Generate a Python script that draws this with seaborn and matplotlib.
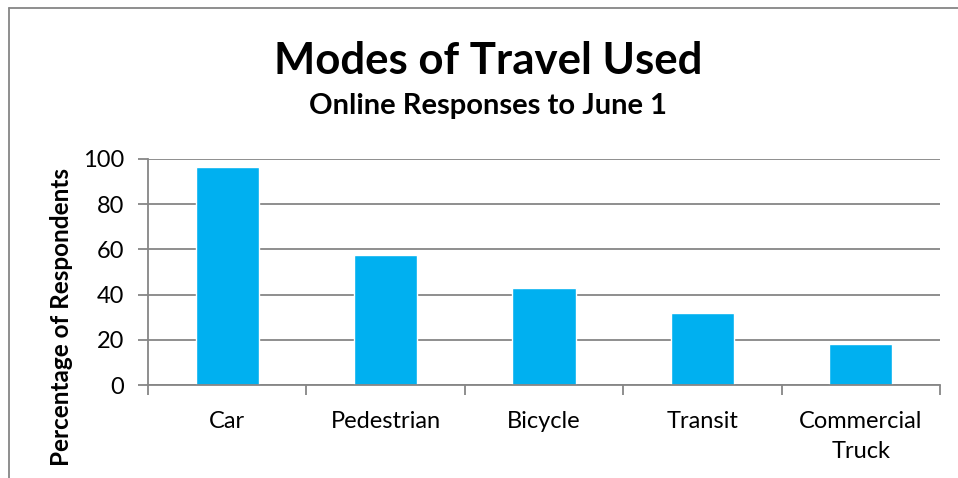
import matplotlib
matplotlib.use("Agg")
import matplotlib.pyplot as plt
from matplotlib.lines import Line2D
import seaborn as sns
import pandas as pd

modes = ["Car", "Pedestrian", "Bicycle", "Transit", "Commercial\nTruck"]
percent = [96.5, 57.5, 43, 32, 18]
y_ticks = [0, 20, 40, 60, 80, 100]

sns.set_theme(style="white")
plt.rcParams["font.family"] = ["Lato", "DejaVu Sans"]

df = pd.DataFrame({"mode": modes, "percent": percent})

fig = plt.figure(figsize=(9.58, 4.78), dpi=100)
ax = fig.add_axes([148 / 958, 1 - 385 / 478, 792 / 958, 226 / 478])

sns.barplot(data=df, x="mode", y="percent", color="#00B0F0", saturation=1,
            width=0.4, ax=ax)

grid_c = "#868686"
ax.set_ylim(0, 100)
ax.set_xlim(-0.5, len(modes) - 0.5)
ax.set_yticks(y_ticks)
ax.yaxis.grid(True, color=grid_c, linewidth=1.3)
ax.set_axisbelow(True)
for s in ["top", "right"]:
    ax.spines[s].set_visible(False)
for s in ["left", "bottom"]:
    ax.spines[s].set_color(grid_c)
    ax.spines[s].set_linewidth(1.3)

ax.tick_params(axis="y", which="major", length=7, width=1.3, color=grid_c,
               labelsize=17, pad=10, left=True)
ax.tick_params(axis="x", which="major", length=0, labelsize=17, pad=19)
ax.set_xticks([i - 0.5 for i in range(len(modes) + 1)], minor=True)
ax.tick_params(axis="x", which="minor", length=7, width=1.3, color=grid_c,
               bottom=True)
for lab in ax.get_xticklabels():
    lab.set_linespacing(1.5)
for lab in ax.get_xticklabels() + ax.get_yticklabels():
    lab.set_color("black")

ax.set_xlabel("")
ax.set_ylabel("")
fig.text(62 / 958, 1 - 317 / 478, "Percentage of Respondents", rotation=90,
         ha="center", va="center", fontsize=17.5, fontweight="bold",
         color="black")

fig.text(488 / 958, 1 - 61 / 478, "Modes of Travel Used", ha="center",
         va="center", fontsize=31.5, fontweight="bold", color="black")
fig.text(488 / 958, 1 - 106 / 478, "Online Responses to June 1", ha="center",
         va="center", fontsize=21, fontweight="bold", color="black")

# outer chart frame (top and left edges)
fig.add_artist(Line2D([9 / 958, 1], [1 - 8 / 478, 1 - 8 / 478],
                      transform=fig.transFigure, color=grid_c, linewidth=1.3))
fig.add_artist(Line2D([9 / 958, 9 / 958], [0, 1 - 8 / 478],
                      transform=fig.transFigure, color=grid_c, linewidth=1.3))

fig.savefig("out.png", dpi=100)
